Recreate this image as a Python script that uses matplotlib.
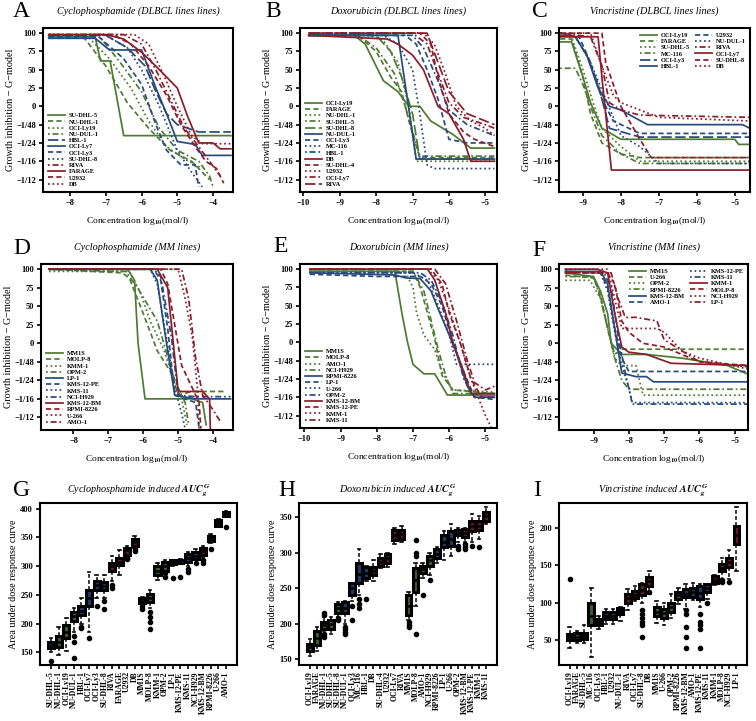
import numpy as np
import matplotlib.pyplot as plt

plt.rcParams['font.family'] = ['Liberation Serif', 'DejaVu Serif']
plt.rcParams['font.weight'] = 'bold'
plt.rcParams['mathtext.fontset'] = 'stix'
plt.rcParams['axes.linewidth'] = 1.5

GRN, BLU, RED = '#4e7a33', '#27497c', '#8a1c2c'
GRN_BOX, BLU_BOX, RED_BOX = '#3a5f26', '#1f3a66', '#701523'

# ---------------- dose response curves ----------------
# A: Cyclophosphamide (DLBCL)
a_names = ['SU-DHL-5', 'NU-DHL-1', 'OCI-Ly19', 'NU-DUL-1', 'HBL-1', 'OCI-Ly7', 'OCI-Ly3', 'SU-DHL-8',
           'RIVA', 'FARAGE', 'U2932', 'DB']
a_x = [[-8.6, -7.3, -7.15, -6.88, -6.5, -3.5],
       [-8.6, -7.6, -7.0, -6.4, -5.8, -5.2, -4.6, -4.1],
       [-8.6, -7.5, -6.9, -6.3, -5.8, -5.3, -4.8, -4.3],
       [-8.6, -7.2, -6.6, -6.0, -5.5, -5.0, -4.4, -4.1, -4.0],
       [-8.6, -7.0, -6.4, -5.9, -5.6, -5.3, -5.0, -4.4, -3.5],
       [-8.6, -7.3, -6.9, -6.0, -5.6, -5.3, -5.0, -4.5, -4.3, -3.5],
       [-8.6, -7.2, -6.5, -6.0, -5.6, -5.3, -4.9, -4.5, -4.4],
       [-8.6, -7.0, -6.4, -6.0, -5.5, -5.0, -4.6, -4.3],
       [-8.6, -6.5, -6.0, -5.6, -5.2, -4.8, -4.4, -4.1, -3.8],
       [-8.6, -7.0, -6.5, -6.0, -5.5, -5.0, -4.7, -4.4, -4.0, -3.8, -3.5],
       [-8.6, -6.8, -6.3, -5.8, -5.3, -4.9, -4.5, -4.2, -3.9, -3.7],
       [-8.6, -6.2, -5.8, -5.4, -5.0, -4.6, -4.3, -3.5]]
a_y = [[95, 95, 62, 62, -40, -40],
       [93, 93, 55, 5, -30, -60, -75, -100],
       [95, 95, 65, 25, -20, -55, -72, -85],
       [97, 97, 60, 20, -30, -60, -75, -95, -110],
       [97, 97, 80, 55, 20, -10, -25, -35, -35],
       [93, 93, 77, 77, 25, -10, -48, -52, -67, -67],
       [95, 95, 65, 30, -25, -60, -80, -80, -110],
       [97, 97, 80, 50, 0, -60, -90, -110],
       [98, 98, 85, 50, 10, -30, -55, -75, -95],
       [98, 98, 92, 74, 50, 25, -15, -50, -50, -58, -58],
       [98, 98, 85, 55, 15, -25, -55, -75, -85, -105],
       [98, 98, 85, 45, 0, -40, -51, -51]]

# B: Doxorubicin (DLBCL)
b_names = ['OCI-Ly19', 'FARAGE', 'NU-DHL-1', 'SU-DHL-5', 'SU-DHL-8', 'NU-DUL-1', 'OCI-Ly3', 'MC-116',
           'HBL-1', 'DB', 'SU-DHL-4', 'U2932', 'OCI-Ly7', 'RIVA']
b_x = [[-9.85, -8.6, -8.3, -8.0, -7.8, -7.4, -7.1, -6.8, -6.5, -5.9, -5.4, -4.75],
       [-9.85, -8.5, -8.0, -7.6, -7.3, -7.1, -6.8, -4.75],
       [-9.85, -8.2, -7.8, -7.4, -7.1, -6.9, -4.75],
       [-9.85, -8.5, -8.0, -7.5, -7.2, -6.8, -4.75],
       [-9.85, -8.0, -7.6, -7.3, -7.0, -6.8, -4.75],
       [-9.85, -7.4, -7.2, -6.9, -4.75],
       [-9.85, -7.2, -6.9, -6.6, -6.3, -6.0, -5.5, -4.75],
       [-9.85, -7.8, -7.4, -7.0, -6.8, -6.6, -6.4, -4.75],
       [-9.85, -7.0, -6.7, -6.3, -6.0, -5.5, -4.75],
       [-9.85, -7.7, -7.4, -7.0, -6.7, -6.3, -6.0, -5.6, -5.4, -4.75],
       [-9.85, -6.8, -6.5, -6.3, -6.0, -5.6, -5.3, -4.75],
       [-9.85, -6.7, -6.4, -6.1, -5.8, -5.4, -5.0, -4.75],
       [-9.85, -7.0, -6.6, -6.3, -6.0, -5.6, -5.0, -4.75],
       [-9.85, -6.6, -6.3, -6.0, -5.5, -5.0, -4.75]]
b_y = [[97, 97, 85, 55, 35, 20, 0, 0, -20, -38, -57, -57],
       [97, 97, 75, 40, 20, -20, -70, -70],
       [97, 97, 90, 60, 0, -75, -75],
       [97, 97, 80, 45, 0, -68, -68],
       [97, 97, 75, 40, -10, -72, -72],
       [97, 97, 30, -72, -72],
       [97, 97, 85, 50, 10, -45, -50, -50],
       [97, 97, 85, 50, -10, -80, -85, -85],
       [97, 97, 80, 35, -5, -25, -40],
       [97, 92, 85, 70, 50, 0, -10, -45, -75, -75],
       [100, 100, 85, 40, -10, -35, -45, -55],
       [100, 100, 85, 45, 0, -20, -30, -40],
       [100, 100, 85, 45, 5, -15, -25, -30],
       [100, 100, 60, 20, -10, -20, -25]]

# C: Vincristine (DLBCL)
c_names = ['OCI-Ly19', 'FARAGE', 'SU-DHL-5', 'MC-116', 'OCI-Ly3', 'HBL-1', 'U2932', 'NU-DUL-1',
           'RIVA', 'OCI-Ly7', 'SU-DHL-8', 'DB']
c_x = [[-9.6, -9.3, -9.0, -8.8, -8.5, -8.0, -7.5, -5.0, -4.9, -4.6],
       [-9.6, -9.3, -9.0, -8.8, -8.5, -8.0, -7.5, -4.6],
       [-9.6, -9.3, -9.0, -8.7, -8.5, -8.0, -7.5, -4.6],
       [-9.6, -9.2, -9.0, -8.8, -8.5, -8.0, -7.5, -4.6],
       [-9.6, -9.2, -8.9, -8.6, -8.3, -7.5, -4.6],
       [-9.6, -9.2, -8.9, -8.6, -8.3, -8.0, -7.3, -4.8, -4.6],
       [-9.6, -9.1, -8.8, -8.5, -8.2, -7.5, -4.6],
       [-9.6, -9.2, -8.8, -8.4, -8.0, -7.5, -7.0, -4.6],
       [-9.6, -8.8, -8.5, -8.3, -8.0, -7.5, -4.6],
       [-9.6, -8.6, -8.5, -8.25, -4.6],
       [-9.6, -8.5, -8.4, -8.0, -7.5, -7.2, -4.6],
       [-9.6, -8.8, -8.5, -8.2, -8.0, -7.0, -4.6]]
c_y = [[88, 88, 40, 5, -30, -45, -45, -45, -52, -52],
       [92, 92, 40, -10, -50, -65, -70, -70],
       [95, 95, 50, 0, -30, -55, -75, -75],
       [52, 52, 30, 0, -40, -65, -78, -78],
       [97, 95, 70, 30, -30, -42, -42],
       [97, 95, 70, 25, 0, -5, -25, -25, -30],
       [100, 95, 60, 10, -20, -37, -37],
       [100, 95, 60, 10, -40, -55, -78, -78],
       [100, 95, 55, 5, -5, -12, -15],
       [95, 95, 40, -87, -87],
       [100, 100, 60, 0, -45, -70, -70],
       [100, 100, 55, 15, 5, -15, -20]]

# D: Cyclophosphamide (MM)
d_names = ['MM1S', 'MOLP-8', 'KMM-1', 'OPM-2', 'LP-1', 'KMS-12-PE', 'KMS-11', 'NCI-H929',
           'KMS-12-BM', 'RPMI-8226', 'U-266', 'AMO-1']
d_x = [[-8.7, -6.45, -6.25, -6.15, -5.95, -4.6, -4.3, -4.2],
       [-8.7, -6.6, -6.4, -6.0, -5.6, -5.2, -5.0, -4.6, -3.7],
       [-8.7, -6.4, -6.1, -5.8, -5.4, -5.1, -4.9, -4.75],
       [-8.7, -6.8, -6.5, -6.1, -5.6, -5.1, -4.8, -4.7],
       [-8.7, -5.8, -5.6, -5.4, -5.1, -4.5, -3.5],
       [-8.7, -5.7, -5.5, -5.3, -5.1, -4.5, -4.4],
       [-8.7, -5.8, -5.6, -5.4, -5.1, -4.9, -4.8],
       [-8.7, -5.7, -5.5, -5.2, -5.0, -4.5, -3.5],
       [-8.7, -5.6, -5.3, -5.0, -4.3, -4.1, -4.08],
       [-8.7, -5.5, -5.3, -5.1, -4.9, -4.6, -4.4, -4.35],
       [-8.7, -5.0, -4.8, -4.6, -4.45, -4.4],
       [-8.7, -4.9, -4.7, -4.5, -4.3, -4.0, -3.8]]
d_y = [[100, 100, 85, 0, -75, -75, -80, -110],
       [100, 95, 88, 40, -10, -40, -70, -65, -65],
       [97, 97, 70, 30, -10, -55, -75, -110],
       [100, 97, 97, 70, 30, -50, -80, -110],
       [100, 100, 85, 20, -70, -75, -75],
       [100, 100, 85, 20, -70, -80, -115],
       [100, 100, 80, 25, -60, -95, -115],
       [100, 100, 90, 10, -70, -72, -72],
       [100, 100, 75, -65, -65, -75, -115],
       [100, 100, 80, 25, -30, -60, -80, -115],
       [100, 100, 60, 10, -60, -115],
       [100, 100, 60, -20, -70, -90, -105]]

# E: Doxorubicin (MM)
e_names = ['MM1S', 'MOLP-8', 'AMO-1', 'NCI-H929', 'RPMI-8226', 'LP-1', 'U-266', 'OPM-2',
           'KMS-12-BM', 'KMS-12-PE', 'KMM-1', 'KMS-11']
e_x = [[-9.85, -7.5, -7.3, -7.15, -7.0, -6.7, -6.4, -6.05, -4.75],
       [-9.85, -7.0, -6.8, -6.6, -6.4, -6.2, -5.9, -4.75],
       [-9.85, -7.2, -7.0, -6.9, -6.7, -6.4, -6.2, -5.9, -4.75],
       [-9.85, -7.0, -6.7, -6.5, -6.3, -6.1, -5.9, -4.75],
       [-9.85, -7.5, -7.2, -6.8, -6.5, -6.3, -6.0, -5.8, -5.5, -5.3, -4.75],
       [-9.85, -8.0, -7.4, -6.8, -6.5, -6.2, -5.9, -5.6, -5.3, -4.75],
       [-9.85, -7.0, -6.6, -6.3, -6.0, -5.8, -4.75],
       [-9.85, -6.8, -6.5, -6.2, -5.9, -5.6, -5.3, -4.75],
       [-9.85, -6.6, -6.4, -6.1, -5.9, -5.6, -5.4, -4.75],
       [-9.85, -6.5, -6.2, -6.0, -5.7, -5.4, -5.1, -4.75],
       [-9.85, -6.6, -6.3, -6.0, -5.7, -5.4, -5.0, -4.8],
       [-9.85, -6.4, -6.1, -5.8, -5.5, -5.3, -5.0, -4.75]]
e_y = [[97, 97, 38, 0, -30, -43, -43, -72, -72],
       [97, 97, 75, 40, 5, -45, -65, -70],
       [97, 95, 75, 40, 10, -10, -40, -65, -68],
       [97, 97, 70, 30, -10, -45, -70, -70],
       [95, 92, 88, 87, 70, 45, 10, -15, -60, -75, -75],
       [93, 90, 90, 90, 80, 50, 0, -40, -75, -78],
       [95, 95, 85, 50, 10, -30, -30],
       [95, 95, 85, 55, 10, -50, -75, -75],
       [100, 100, 85, 40, 0, -40, -70, -70],
       [100, 100, 80, 40, 0, -50, -75, -75],
       [100, 100, 85, 45, 0, -50, -100, -120],
       [100, 100, 80, 30, -25, -55, -65, -60]]

# F: Vincristine (MM)
f_names = ['MM1S', 'U-266', 'OPM-2', 'RPMI-8226', 'KMS-12-BM', 'AMO-1', 'KMS-12-PE', 'KMS-11',
           'KMM-1', 'MOLP-8', 'NCI-H929', 'LP-1']
f_x = [[-9.8, -9.0, -8.8, -8.6, -8.5, -8.2, -7.5, -6.5, -5.2, -4.95, -4.6],
       [-9.8, -9.0, -8.8, -8.6, -8.4, -8.2, -4.6],
       [-9.8, -9.1, -8.8, -8.6, -8.4, -8.2, -7.8, -7.6, -4.6],
       [-9.8, -9.0, -8.8, -8.6, -8.4, -8.2, -8.0, -4.6],
       [-9.8, -8.8, -8.6, -8.4, -8.2, -7.8, -7.5, -7.3, -4.6],
       [-9.8, -8.8, -8.6, -8.4, -8.2, -8.0, -4.6],
       [-9.8, -8.8, -8.6, -8.4, -8.2, -8.0, -7.9, -4.6],
       [-9.8, -8.7, -8.5, -8.3, -8.1, -7.9, -4.6],
       [-9.8, -8.9, -8.6, -8.4, -8.2, -8.0, -7.5, -6.8, -4.6],
       [-9.8, -8.6, -8.4, -8.2, -8.0, -7.6, -7.0, -6.5, -6.0, -4.6],
       [-9.8, -8.6, -8.4, -8.2, -7.5, -7.2, -7.0, -6.5, -6.0, -4.6],
       [-9.8, -8.7, -8.5, -8.3, -8.1, -7.8, -7.2, -7.0, -6.5, -6.0, -4.6]]
f_y = [[95, 90, 70, 40, 0, -15, -15, -20, -30, -35, -42],
       [92, 88, 65, 20, -15, -8, -8],
       [85, 85, 60, 20, -20, -30, -30, -70, -70],
       [90, 90, 60, 20, -20, -50, -62, -62],
       [97, 97, 80, 20, -40, -45, -45, -52, -52],
       [97, 95, 75, 20, -20, -38, -38],
       [97, 95, 70, 15, -30, -60, -80, -80],
       [97, 95, 75, 10, -40, -82, -82],
       [100, 100, 95, 40, -5, -12, -15, -27, -30],
       [95, 95, 80, 30, 15, 0, -5, -15, -25, -30],
       [100, 100, 60, 20, 20, 20, 15, -10, -20, -35],
       [95, 95, 95, 60, 35, 35, 30, 5, -10, -25, -32]]

# y tick labels of the curve panels
gi_ticks = [100, 75, 50, 25, 0, -25, -50, -75, -100]
gi_labels = ['100', '75', '50', '25', '0', '\u22121/48', '\u22121/24', '\u22121/16', '\u22121/12']

# ---------------- AUC boxplots ----------------
g_q1 = [158, 160, 175, 205, 215, 230, 258, 258, 292, 302, 320, 335, 236, 238, 285, 292, 303, 305, 308, 312, 320, 343, 370, 388]
g_med = [163, 168, 185, 213, 222, 245, 268, 265, 300, 308, 328, 342, 240, 245, 292, 300, 308, 307, 315, 318, 327, 348, 375, 392]
g_q3 = [168, 178, 198, 220, 230, 258, 275, 273, 305, 315, 332, 348, 244, 252, 300, 308, 310, 310, 322, 325, 332, 353, 380, 394]
g_lo = [150, 145, 152, 185, 200, 185, 245, 245, 275, 285, 318, 332, 232, 228, 276, 290, 300, 303, 300, 312, 314, 340, 368, 385]
g_hi = [175, 195, 210, 228, 245, 290, 285, 285, 318, 328, 335, 352, 246, 258, 305, 310, 310, 312, 325, 330, 336, 356, 382, 396]
g_fl = [[135], [], [], [140, 168, 178], [192, 195], [175], [230], [225, 240], [262, 268], [], [312, 315], [326, 330],
        [225, 230], [190, 202, 212, 220], [], [282, 288], [280], [282], [290, 295], [306], [305, 310], [330], [], [368]]

h_q1 = [162, 170, 193, 193, 215, 215, 240, 258, 265, 268, 282, 285, 318, 320, 212, 245, 272, 282, 292, 308, 310, 325, 322, 330, 332, 345]
h_med = [167, 180, 198, 200, 222, 222, 250, 270, 272, 275, 287, 292, 325, 326, 225, 262, 277, 290, 298, 315, 320, 328, 328, 338, 338, 352]
h_q3 = [172, 190, 203, 205, 228, 230, 258, 285, 280, 280, 292, 298, 332, 332, 240, 278, 282, 295, 305, 325, 330, 332, 333, 345, 345, 358]
h_lo = [155, 162, 190, 185, 210, 200, 232, 240, 260, 260, 278, 280, 312, 315, 205, 225, 265, 268, 285, 290, 295, 315, 315, 315, 320, 340]
h_hi = [178, 195, 210, 210, 230, 232, 258, 305, 282, 290, 298, 300, 335, 338, 245, 285, 285, 300, 308, 330, 340, 335, 335, 355, 352, 365]
h_fl = [[], [], [182, 185, 213, 215], [], [205, 208], [185, 188, 192, 195], [205, 225], [222, 228, 235], [235], [], [], [], [], [],
        [195, 198, 202], [185, 295, 300, 318], [240], [262], [], [], [], [305, 310], [305, 308, 312], [310], [308], []]

i_q1 = [50, 50, 52, 70, 70, 78, 78, 85, 100, 106, 110, 122, 83, 80, 88, 105, 108, 108, 105, 115, 127, 142, 148, 178]
i_med = [54, 55, 56, 83, 74, 83, 83, 89, 106, 111, 117, 129, 88, 86, 95, 110, 112, 114, 113, 120, 131, 147, 154, 190]
i_q3 = [58, 60, 60, 100, 78, 88, 88, 93, 112, 116, 125, 135, 95, 92, 100, 115, 118, 120, 122, 125, 136, 152, 160, 202]
i_lo = [40, 47, 47, 28, 65, 72, 72, 76, 90, 102, 100, 112, 73, 70, 80, 98, 92, 104, 95, 105, 124, 132, 132, 142]
i_hi = [68, 62, 70, 120, 82, 92, 92, 95, 118, 122, 126, 142, 102, 100, 112, 120, 125, 126, 125, 125, 137, 160, 170, 228]
i_fl = [[132], [], [], [], [], [], [], [], [], [], [55, 70, 75, 80, 85, 90], [115],
        [], [], [], [], [40, 55, 68, 85, 90], [], [40, 65, 70, 75, 85], [100], [], [128, 130], [128], []]

# ---------------- styles ----------------
DASH = {'S': '-', 'D': (0, (3, 1.8)), 'O': (0, (1, 1.6)), 'DD': (0, (1, 1.6, 3.5, 1.6)), 'L': (0, (6, 2))}
a_cols = [GRN] * 4 + [BLU] * 4 + [RED] * 4
a_ls = ['S', 'D', 'O', 'DD', 'L', 'S', 'D', 'O', 'DD', 'S', 'D', 'O']
b_cols = [GRN] * 5 + [BLU] * 4 + [RED] * 5
b_ls = ['S', 'D', 'O', 'DD', 'L', 'S', 'D', 'O', 'DD', 'S', 'D', 'O', 'DD', 'L']
c_cols = a_cols
c_ls = a_ls
mm_cols = [GRN] * 4 + [BLU] * 4 + [RED] * 4
mm_ls = ['S', 'D', 'O', 'DD'] * 3
box_dark = {GRN: GRN_BOX, BLU: BLU_BOX, RED: RED_BOX}


def curves(ax, xs, ys, names, cols, lss, xlim, xticks, title, loc, ncol):
    for x, y, n, c, s in zip(xs, ys, names, cols, lss):
        ax.plot(x, y, color=c, ls=DASH[s], lw=1.25, label=n)
    ax.set_xlim(xlim)
    ax.set_ylim(-117, 107)
    ax.set_xticks(xticks)
    ax.set_yticks(gi_ticks)
    ax.set_yticklabels(gi_labels)
    ax.tick_params(labelsize=6, width=1.2, length=3, pad=2)
    ax.set_title(title, style='italic', fontsize=7.3, pad=10)
    ax.set_xlabel(r'Concentration log$_{10}$(mol/l)', fontsize=6.8, labelpad=6)
    ax.set_ylabel('Growth inhibition \u2212 G\u2212model', fontsize=7.3, labelpad=1)
    if ncol == 1:
        ax.legend(loc=loc, fontsize=4.6, frameon=False, handlelength=2.6, labelspacing=0.12,
                  borderaxespad=0.4, handletextpad=0.6, bbox_to_anchor=(0.0, 0.0))
    else:
        ax.legend(loc=loc, ncol=2, fontsize=4.6, frameon=False, handlelength=2.6, labelspacing=0.12,
                  borderaxespad=0.3, handletextpad=0.6, columnspacing=0.8)


def boxes(ax, q1, med, q3, lo, hi, fl, names, cols, ylim, yticks, title):
    stats = []
    for k in range(len(names)):
        stats.append(dict(q1=q1[k], med=med[k], q3=q3[k], whislo=lo[k], whishi=hi[k],
                          fliers=fl[k], label=names[k]))
    n = len(names)
    bp = ax.bxp(stats, positions=np.arange(1, n + 1), widths=0.8, patch_artist=True,
                boxprops=dict(lw=2.2, edgecolor='black'),
                medianprops=dict(color='black', lw=1.8),
                whiskerprops=dict(ls=(0, (2.5, 1.5)), lw=1.1, color='black'),
                capprops=dict(lw=1.2), capwidths=0.35,
                flierprops=dict(marker='o', markerfacecolor='black', markeredgecolor='black', markersize=3))
    for p, c in zip(bp['boxes'], cols):
        p.set_facecolor(box_dark[c])
    ax.set_xlim(0.5 - 0.04 * n, n + 0.5 + 0.04 * n)
    ax.set_ylim(ylim)
    ax.set_yticks(yticks)
    ax.set_xticks(np.arange(1, n + 1))
    ax.set_xticklabels(names, rotation=90, fontsize=5.6)
    ax.tick_params(axis='y', labelsize=6, width=1.2, length=3, pad=2)
    ax.tick_params(axis='x', width=1.2, length=3, pad=1.5)
    ax.set_title(title, style='italic', fontsize=7.3, pad=7)
    ax.set_ylabel('Area under dose response curve', fontsize=7.3, labelpad=2)


fig = plt.figure(figsize=(7.56, 7.21), dpi=100)
W, H = 756.0, 721.0


def add_ax(x0, x1, y0, y1):
    return fig.add_axes([x0 / W, 1 - y1 / H, (x1 - x0) / W, (y1 - y0) / H])


axA = add_ax(43, 233, 28, 192)
axB = add_ax(300, 497, 28, 192)
axC = add_ax(559, 750, 28, 192)
axD = add_ax(41, 233, 264, 430)
axE = add_ax(300, 497, 264, 428)
axF = add_ax(559, 748, 264, 430)
axG = add_ax(40, 237, 503, 665)
axH = add_ax(299, 497, 503, 665)
axI = add_ax(559, 747, 503, 665)

curves(axA, a_x, a_y, a_names, a_cols, a_ls, (-8.76, -3.44), [-8, -7, -6, -5, -4],
       'Cyclophosphamide (DLBCL lines lines)', 'lower left', 1)
curves(axB, b_x, b_y, b_names, b_cols, b_ls, (-10.09, -4.68), [-10, -9, -8, -7, -6, -5],
       'Doxorubicin (DLBCL lines lines)', 'lower left', 1)
curves(axC, c_x, c_y, c_names, c_cols, c_ls, (-9.63, -4.6), [-9, -8, -7, -6, -5],
       'Vincristine (DLBCL lines lines)', 'upper right', 2)
curves(axD, d_x, d_y, d_names, mm_cols, mm_ls, (-8.93, -3.43), [-8, -7, -6, -5, -4],
       'Cyclophosphamide (MM lines)', 'lower left', 1)
curves(axE, e_x, e_y, e_names, mm_cols, mm_ls, (-10.12, -4.68), [-10, -9, -8, -7, -6, -5],
       'Doxorubicin (MM lines)', 'lower left', 1)
curves(axF, f_x, f_y, f_names, mm_cols, mm_ls, (-9.98, -4.62), [-9, -8, -7, -6, -5],
       'Vincristine (MM lines)', 'upper right', 2)

boxes(axG, g_q1, g_med, g_q3, g_lo, g_hi, g_fl, a_names + d_names, a_cols + mm_cols,
      (128, 410), [150, 200, 250, 300, 350, 400], r'Cyclophosphamide induced $AUC_g^G$')
boxes(axH, h_q1, h_med, h_q3, h_lo, h_hi, h_fl, b_names + e_names, b_cols + mm_cols,
      (142, 370), [150, 200, 250, 300, 350], r'Doxorubicin induced $AUC_g^G$')
boxes(axI, i_q1, i_med, i_q3, i_lo, i_hi, i_fl, c_names + f_names, c_cols + mm_cols,
      (17, 233), [50, 100, 150, 200], r'Vincristine induced $AUC_g^G$')

letters = [('A', 13, 17), ('B', 265, 17), ('C', 532, 17), ('D', 13, 254), ('E', 273, 252),
           ('F', 532, 256), ('G', 13, 496), ('H', 278, 496), ('I', 533, 496)]
for t, px, py in letters:
    fig.text(px / W, 1 - py / H, t, fontsize=17, fontweight='normal', ha='left', va='baseline')

fig.savefig('out.png', dpi=100)
